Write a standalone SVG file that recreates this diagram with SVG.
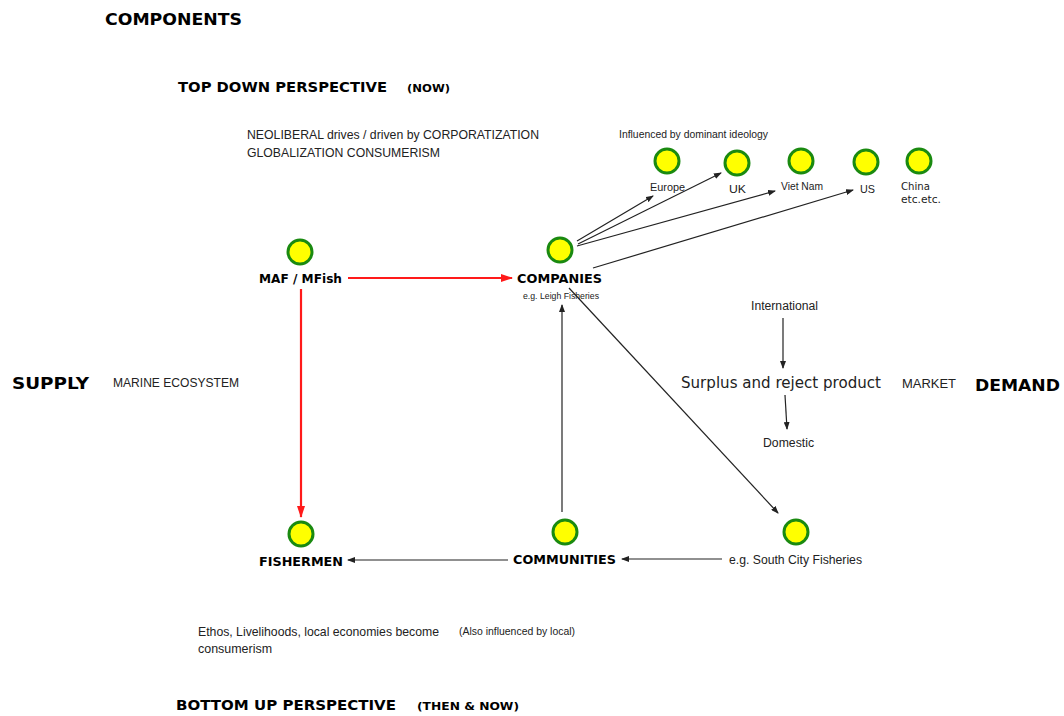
<svg xmlns="http://www.w3.org/2000/svg" width="1064" height="716" viewBox="0 0 1064 716">
<style>
.t{font-family:"Liberation Sans",Arial,sans-serif;fill:#222}
.b{font-family:"DejaVu Sans","Liberation Sans",Arial,sans-serif;font-weight:bold;fill:#000}
.v{font-family:"DejaVu Sans",Verdana,sans-serif;fill:#222}
.n{fill:#ffff00;stroke:#1a8a10;stroke-width:3}
.k{stroke:#222;stroke-width:1.2;fill:none;marker-end:url(#ak)}
.r{stroke:#ff1a1a;stroke-width:2.2;fill:none;marker-end:url(#ar)}
</style>
<defs>
<marker id="ak" markerWidth="8" markerHeight="6" refX="7" refY="3" orient="auto" markerUnits="userSpaceOnUse"><path d="M0,0 L8,3 L0,6 z" fill="#222"/></marker>
<marker id="ar" markerWidth="12" markerHeight="8" refX="11" refY="4" orient="auto" markerUnits="userSpaceOnUse"><path d="M0,0 L12,4 L0,8 z" fill="#ff1a1a"/></marker>
</defs>
<rect width="1064" height="716" fill="#fff"/>

<g id="headings">
<text class="b" x="105" y="25" font-size="16" textLength="137" lengthAdjust="spacingAndGlyphs">COMPONENTS</text>
<text class="b" x="178" y="92" font-size="14" textLength="209" lengthAdjust="spacingAndGlyphs">TOP DOWN PERSPECTIVE</text>
<text class="b" x="407" y="92" font-size="11" textLength="43" lengthAdjust="spacingAndGlyphs">(NOW)</text>
<text class="t" x="247" y="139" font-size="13" textLength="292" lengthAdjust="spacingAndGlyphs">NEOLIBERAL drives / driven by CORPORATIZATION</text>
<text class="t" x="247" y="157" font-size="13" textLength="193" lengthAdjust="spacingAndGlyphs">GLOBALIZATION CONSUMERISM</text>
<text class="t" x="619" y="138" font-size="11" textLength="149" lengthAdjust="spacingAndGlyphs">Influenced by dominant ideology</text>
<text class="b" x="12" y="389" font-size="16" textLength="77" lengthAdjust="spacingAndGlyphs">SUPPLY</text>
<text class="t" x="113" y="387" font-size="13" textLength="126" lengthAdjust="spacingAndGlyphs">MARINE ECOSYSTEM</text>
<text class="v" x="681" y="388" font-size="15" textLength="200" lengthAdjust="spacingAndGlyphs">Surplus and reject product</text>
<text class="t" x="902" y="388" font-size="13" textLength="54" lengthAdjust="spacingAndGlyphs">MARKET</text>
<text class="b" x="975" y="391" font-size="16" textLength="85" lengthAdjust="spacingAndGlyphs">DEMAND</text>
<text class="t" x="751" y="310" font-size="12" textLength="67" lengthAdjust="spacingAndGlyphs">International</text>
<text class="t" x="763" y="447" font-size="12" textLength="51" lengthAdjust="spacingAndGlyphs">Domestic</text>
<text class="t" x="198" y="636" font-size="13" textLength="241" lengthAdjust="spacingAndGlyphs">Ethos, Livelihoods, local economies become</text>
<text class="t" x="198" y="653" font-size="13" textLength="74" lengthAdjust="spacingAndGlyphs">consumerism</text>
<text class="t" x="459" y="635" font-size="10" textLength="116" lengthAdjust="spacingAndGlyphs">(Also influenced by local)</text>
<text class="b" x="176" y="710" font-size="14" textLength="220" lengthAdjust="spacingAndGlyphs">BOTTOM UP PERSPECTIVE</text>
<text class="b" x="417" y="710" font-size="11" textLength="102" lengthAdjust="spacingAndGlyphs">(THEN &amp; NOW)</text>
</g>

<g id="connectors">
<line class="r" x1="348" y1="278" x2="512" y2="278"/>
<line class="r" x1="301" y1="289" x2="301" y2="517"/>
<line class="k" x1="577" y1="241" x2="653" y2="196"/>
<line class="k" x1="578" y1="244" x2="721" y2="173"/>
<line class="k" x1="577" y1="246" x2="775" y2="191"/>
<line class="k" x1="593" y1="268" x2="853" y2="190"/>
<line class="k" x1="569" y1="288" x2="778" y2="513"/>
<line class="k" x1="562" y1="512" x2="562" y2="305"/>
<line class="k" x1="783" y1="318" x2="783" y2="368"/>
<line class="k" x1="785" y1="395" x2="787" y2="429"/>
<line class="k" x1="722" y1="559" x2="622" y2="559"/>
<line class="k" x1="508" y1="560" x2="348" y2="560"/>
</g>

<g id="maf"><circle class="n" cx="300" cy="252" r="12"/><text class="b" x="259" y="283" font-size="13" textLength="83" lengthAdjust="spacingAndGlyphs">MAF / MFish</text></g>
<g id="companies"><circle class="n" cx="560" cy="250" r="12"/><text class="b" x="517" y="283" font-size="13" textLength="85" lengthAdjust="spacingAndGlyphs">COMPANIES</text><text class="t" x="523" y="299" font-size="9" textLength="76" lengthAdjust="spacingAndGlyphs">e.g. Leigh Fisheries</text></g>
<g id="europe"><circle class="n" cx="667" cy="161" r="12"/><text class="t" x="650" y="191" font-size="11" textLength="35" lengthAdjust="spacingAndGlyphs">Europe</text></g>
<g id="uk"><circle class="n" cx="737" cy="163" r="12"/><text class="t" x="729" y="193" font-size="11" textLength="17" lengthAdjust="spacingAndGlyphs">UK</text></g>
<g id="vietnam"><circle class="n" cx="801" cy="161" r="12"/><text class="t" x="781" y="190" font-size="11" textLength="42" lengthAdjust="spacingAndGlyphs">Viet Nam</text></g>
<g id="us"><circle class="n" cx="866" cy="162" r="12"/><text class="t" x="860" y="193" font-size="11" textLength="15" lengthAdjust="spacingAndGlyphs">US</text></g>
<g id="china"><circle class="n" cx="919" cy="161" r="12"/><text class="v" x="901" y="190" font-size="11" textLength="29" lengthAdjust="spacingAndGlyphs">China</text><text class="v" x="901" y="203" font-size="11" textLength="40" lengthAdjust="spacingAndGlyphs">etc.etc.</text></g>
<g id="fishermen"><circle class="n" cx="301" cy="534" r="12"/><text class="b" x="259" y="566" font-size="13" textLength="84" lengthAdjust="spacingAndGlyphs">FISHERMEN</text></g>
<g id="communities"><circle class="n" cx="565" cy="532" r="12"/><text class="b" x="513" y="564" font-size="13" textLength="103" lengthAdjust="spacingAndGlyphs">COMMUNITIES</text></g>
<g id="southcity"><circle class="n" cx="796" cy="532" r="12"/><text class="t" x="729" y="564" font-size="13" textLength="133" lengthAdjust="spacingAndGlyphs">e.g. South City Fisheries</text></g>
</svg>
